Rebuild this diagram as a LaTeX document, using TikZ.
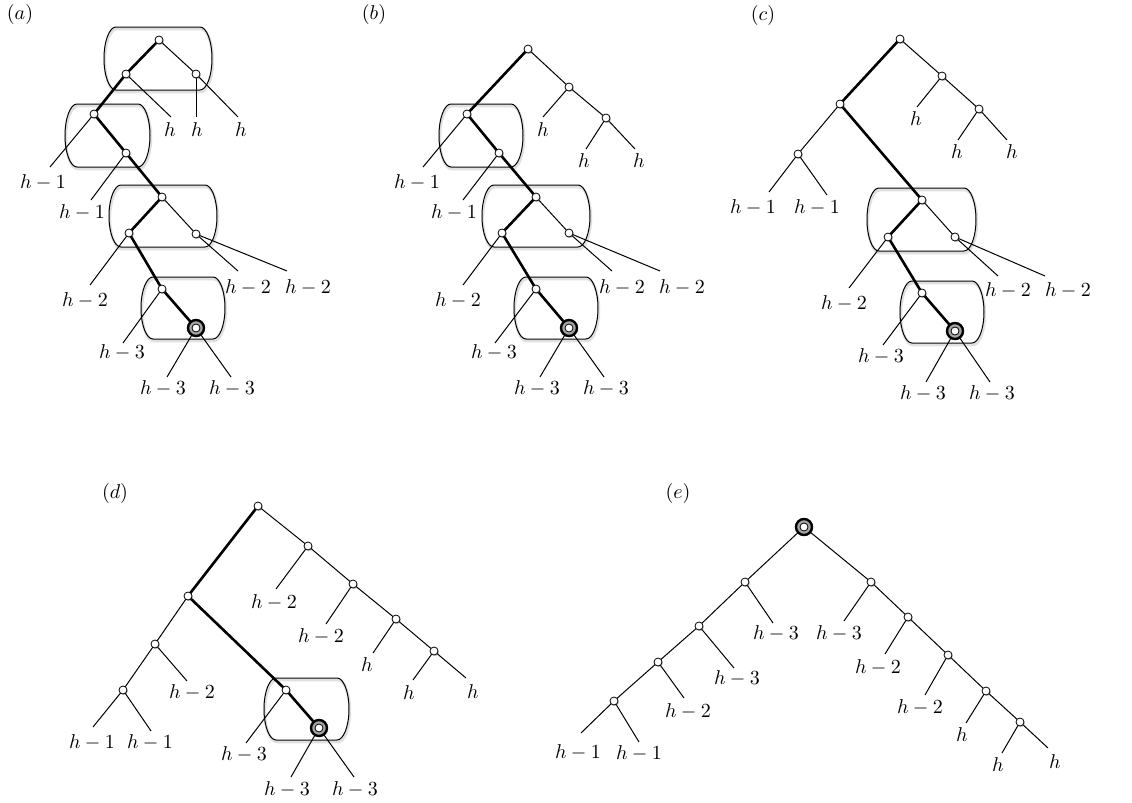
\documentclass[tikz,border=0pt]{standalone}
\usetikzlibrary{shadows,backgrounds}
\newcommand{\stadium}[4]{%
  \pgfmathsetmacro\sry{(#4-#2)/4}%
  \draw[boxline] (#3-12,#2) arc[start angle=90,end angle=-90,x radius=6pt,y radius=\sry pt]
     -- (#1+12,#4) arc[start angle=270,end angle=90,x radius=6pt,y radius=\sry pt] -- cycle;}
\newcommand{\leaf}[5]{%
  \coordinate (#2) at (#3);
  \begin{pgfonlayer}{background}\draw[thinedge] (#1.center) -- (#2);\end{pgfonlayer}
  \node[lbl] (#2t) at (#4) {$#5$};}
\newcommand{\tedge}[2]{\begin{pgfonlayer}{background}\draw[thinedge] (#1.center) -- (#2.center);\end{pgfonlayer}}
\begin{document}
\begin{tikzpicture}[x=0.5pt,y=-0.5pt,
  vtx/.style={circle,draw,fill=white,inner sep=0pt,minimum size=4pt,line width=0.4pt,
    drop shadow={shadow xshift=0.5pt,shadow yshift=-0.6pt,fill=black!70,opacity=0.3}},
  ring/.style={circle,draw,line width=1.2pt,fill=black!35,inner sep=0pt,minimum size=8pt,
    drop shadow={shadow xshift=0.5pt,shadow yshift=-0.6pt,fill=black!70,opacity=0.3},
    path picture={\draw[line width=0.4pt,fill=white] (path picture bounding box.center) circle (2pt);}},
  thinedge/.style={line width=0.5pt},
  heavy/.style={line width=1.3pt,line join=round},
  lbl/.style={inner sep=0pt},
  panel/.style={inner sep=0pt},
  boxline/.style={line width=0.5pt,
    preaction={draw=black!12,line width=1.4pt,transform canvas={shift={(0.4pt,-1pt)}}}}]
\useasboundingbox (0,0) rectangle (1132,803);

% ---------------- (a)
\node[panel] (pa) at (20,14) {$(a)$};
\node[vtx] (a1) at (159,40) {};
\node[vtx] (a2) at (126,74) {};
\node[vtx] (a3) at (196,74) {};
\node[vtx] (a4) at (94,114) {};
\node[vtx] (a5) at (126,153) {};
\node[vtx] (a6) at (162,197) {};
\node[vtx] (a7) at (129,233) {};
\node[vtx] (a8) at (196,234) {};
\node[vtx] (a9) at (162,289) {};
\node[ring] (a10) at (196,328) {};
\begin{pgfonlayer}{background}
\stadium{104}{27}{212}{90}
\stadium{65}{104}{150}{167}
\stadium{109}{185}{217}{247}
\stadium{141}{277}{225}{339}
\draw[heavy] (a1.center) -- (a2.center) -- (a4.center) -- (a5.center) -- (a6.center) -- (a7.center) -- (a9.center) -- (a10.center);
\end{pgfonlayer}
\tedge{a1}{a3}
\tedge{a6}{a8}
\leaf{a2}{a2l}{171,117}{170,130}{h}
\leaf{a3}{a3l}{196,117}{197,130}{h}
\leaf{a3}{a3r}{238,117}{241,130}{h}
\leaf{a4}{a4l}{50,167}{43,182}{h-1}
\leaf{a5}{a5l}{91,200}{82,212}{h-1}
\leaf{a7}{a7l}{90,285}{85,300}{h-2}
\leaf{a8}{a8l}{238,271}{248,287}{h-2}
\leaf{a8}{a8r}{287,271}{308,287}{h-2}
\leaf{a9}{a9l}{123,343}{122,352}{h-3}
\leaf{a10}{a10l}{167,377}{163,388}{h-3}
\leaf{a10}{a10r}{231,377}{232,388}{h-3}

% ---------------- (b)
\node[panel] (pb) at (374,14) {$(b)$};
\node[vtx] (b1) at (528,49) {};
\node[vtx] (b2) at (569,87) {};
\node[vtx] (b3) at (606,118) {};
\node[vtx] (b4) at (467,114) {};
\node[vtx] (b5) at (499,153) {};
\node[vtx] (b6) at (536,197) {};
\node[vtx] (b7) at (502,233) {};
\node[vtx] (b8) at (569,233) {};
\node[vtx] (b9) at (536,289) {};
\node[ring] (b10) at (569,328) {};
\begin{pgfonlayer}{background}
\stadium{439}{104}{523}{167}
\stadium{482}{185}{590}{247}
\stadium{514}{277}{598}{339}
\draw[heavy] (b1.center) -- (b4.center) -- (b5.center) -- (b6.center) -- (b7.center) -- (b9.center) -- (b10.center);
\end{pgfonlayer}
\tedge{b1}{b2}
\tedge{b2}{b3}
\tedge{b6}{b8}
\leaf{b2}{b2l}{543,117}{543,130}{h}
\leaf{b3}{b3l}{586,149}{584,161}{h}
\leaf{b3}{b3r}{635,149}{639,161}{h}
\leaf{b4}{b4l}{423,167}{417,182}{h-1}
\leaf{b5}{b5l}{463,200}{454,212}{h-1}
\leaf{b7}{b7l}{463,285}{458,300}{h-2}
\leaf{b8}{b8l}{612,271}{622,287}{h-2}
\leaf{b8}{b8r}{660,271}{682,287}{h-2}
\leaf{b9}{b9l}{495,343}{494,352}{h-3}
\leaf{b10}{b10l}{540,377}{537,388}{h-3}
\leaf{b10}{b10r}{604,377}{606,388}{h-3}

% ---------------- (c)
\node[panel] (pc) at (763,15) {$(c)$};
\node[vtx] (c1) at (900,39) {};
\node[vtx] (c2) at (942,76) {};
\node[vtx] (c3) at (979,109) {};
\node[vtx] (c4) at (840,104) {};
\node[vtx] (c5) at (798,154) {};
\node[vtx] (c6) at (922,200) {};
\node[vtx] (c7) at (888,237) {};
\node[vtx] (c8) at (955,237) {};
\node[vtx] (c9) at (922,293) {};
\node[ring] (c10) at (955,331) {};
\begin{pgfonlayer}{background}
\stadium{867}{188}{976}{251}
\stadium{900}{281}{984}{343}
\draw[heavy] (c1.center) -- (c4.center) -- (c6.center) -- (c7.center) -- (c9.center) -- (c10.center);
\end{pgfonlayer}
\tedge{c1}{c2}
\tedge{c2}{c3}
\tedge{c4}{c5}
\tedge{c6}{c8}
\leaf{c2}{c2l}{917,107}{916,119}{h}
\leaf{c3}{c3l}{958,140}{957,152}{h}
\leaf{c3}{c3r}{1007,140}{1012,152}{h}
\leaf{c5}{c5l}{769,192}{753,207}{h-1}
\leaf{c5}{c5r}{827,195}{817,207}{h-1}
\leaf{c7}{c7l}{849,288}{844,303}{h-2}
\leaf{c8}{c8l}{998,276}{1008,290}{h-2}
\leaf{c8}{c8r}{1045,276}{1068,290}{h-2}
\leaf{c9}{c9l}{883,345}{881,356}{h-3}
\leaf{c10}{c10l}{926,382}{923,393}{h-3}
\leaf{c10}{c10r}{990,382}{992,393}{h-3}

% ---------------- (d)
\node[panel] (pd) at (115,493) {$(d)$};
\node[vtx] (d1) at (258,506) {};
\node[vtx] (d2) at (308,546) {};
\node[vtx] (d3) at (353,584) {};
\node[vtx] (d4) at (396,619) {};
\node[vtx] (d5) at (434,651) {};
\node[vtx] (d6) at (188,596) {};
\node[vtx] (d7) at (155,644) {};
\node[vtx] (d8) at (123,690) {};
\node[vtx] (d9) at (286,690) {};
\node[ring] (d10) at (319,728) {};
\begin{pgfonlayer}{background}
\stadium{264}{678}{349}{740}
\draw[heavy] (d1.center) -- (d6.center) -- (d9.center) -- (d10.center);
\end{pgfonlayer}
\tedge{d1}{d2}
\tedge{d2}{d3}
\tedge{d3}{d4}
\tedge{d4}{d5}
\tedge{d6}{d7}
\tedge{d7}{d8}
\leaf{d2}{d2l}{276,589}{274,602}{h-2}
\leaf{d3}{d3l}{326,624}{321,636}{h-2}
\leaf{d4}{d4l}{373,653}{367,665}{h}
\leaf{d5}{d5l}{413,680}{409,693}{h}
\leaf{d5}{d5r}{466,678}{473,692}{h}
\leaf{d7}{d7l}{187,681}{192,692}{h-2}
\leaf{d8}{d8l}{93,727}{92,742}{h-1}
\leaf{d8}{d8r}{151,731}{150,742}{h-1}
\leaf{d9}{d9l}{246,743}{244,754}{h-3}
\leaf{d10}{d10l}{291,777}{287,789}{h-3}
\leaf{d10}{d10r}{354,777}{355,789}{h-3}

% ---------------- (e)
\node[panel] (pe) at (678,493) {$(e)$};
\node[ring] (e1) at (804,527) {};
\node[vtx] (e2) at (745,582) {};
\node[vtx] (e3) at (871,582) {};
\node[vtx] (e4) at (699,626) {};
\node[vtx] (e5) at (658,662) {};
\node[vtx] (e6) at (614,701) {};
\node[vtx] (e7) at (908,617) {};
\node[vtx] (e8) at (948,655) {};
\node[vtx] (e9) at (986,691) {};
\node[vtx] (e10) at (1020,722) {};
\tedge{e1}{e2}
\tedge{e2}{e4}
\tedge{e4}{e5}
\tedge{e5}{e6}
\tedge{e1}{e3}
\tedge{e3}{e7}
\tedge{e7}{e8}
\tedge{e8}{e9}
\tedge{e9}{e10}
\leaf{e2}{e2r}{773,623}{776,633}{h-3}
\leaf{e4}{e4r}{734,668}{737,678}{h-3}
\leaf{e5}{e5r}{684,698}{688,711}{h-2}
\leaf{e6}{e6l}{581,733}{578,752}{h-1}
\leaf{e6}{e6r}{639,742}{639,753}{h-1}
\leaf{e3}{e3l}{844,621}{839,633}{h-3}
\leaf{e7}{e7l}{885,654}{878,667}{h-2}
\leaf{e8}{e8l}{925,695}{920,707}{h-2}
\leaf{e9}{e9l}{966,723}{962,735}{h}
\leaf{e10}{e10l}{1002,753}{998,765}{h}
\leaf{e10}{e10r}{1048,748}{1055,762}{h}
\end{tikzpicture}
\end{document}
